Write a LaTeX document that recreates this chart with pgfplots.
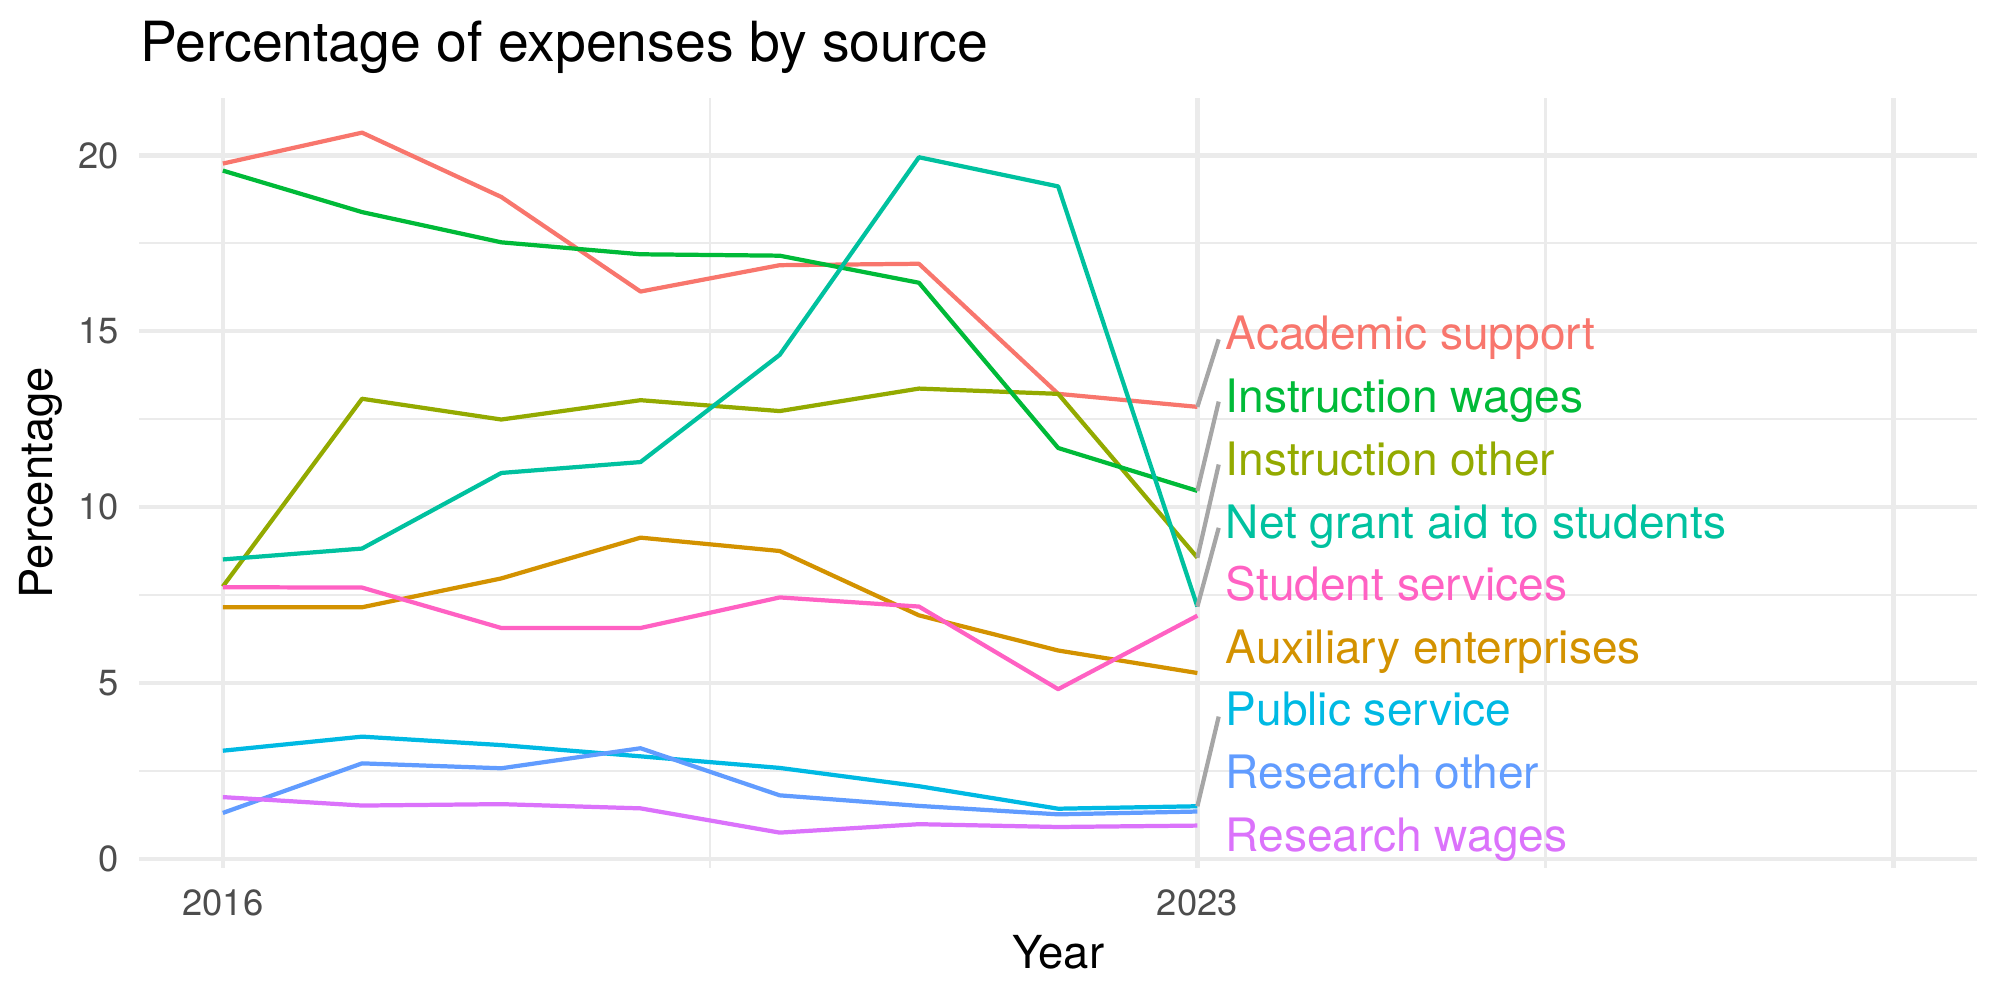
\documentclass[border=0pt]{standalone}
\usepackage{pgfplots}
\pgfplotsset{compat=1.18}
\usepackage{fontspec}
\setmainfont{TeX Gyre Heros}
\usetikzlibrary{calc}

\definecolor{acad}{HTML}{F8766D}
\definecolor{aux}{HTML}{D39200}
\definecolor{instoth}{HTML}{93AA00}
\definecolor{instwag}{HTML}{00BA38}
\definecolor{grant}{HTML}{00C19F}
\definecolor{public}{HTML}{00B9E3}
\definecolor{resoth}{HTML}{619CFF}
\definecolor{reswag}{HTML}{DB72FB}
\definecolor{student}{HTML}{FF61C3}
\definecolor{gridc}{HTML}{EBEBEB}
\definecolor{tickc}{HTML}{4D4D4D}
\definecolor{segc}{HTML}{A6A6A6}

\begin{document}
\begin{tikzpicture}
\begin{axis}[
  scale only axis,
  width=464.84pt, height=194.77pt,
  xmin=2015.4, xmax=2028.6,
  ymin=-0.256, ymax=21.646,
  axis line style={draw=none},
  tick style={draw=none},
  xtick={2016,2023,2028},
  xticklabels={2016,2023,{}},
  minor xtick={2019.5,2025.5},
  ytick={0,5,10,15,20},
  minor ytick={2.5,7.5,12.5,17.5},
  grid=both,
  major grid style={color=gridc, line width=1.07pt},
  minor grid style={color=gridc, line width=0.53pt},
  /pgf/number format/assume math mode=true,
  ticklabel style={font=\fontsize{9.2}{11}\selectfont, text=tickc, inner sep=0pt},
  xticklabel style={anchor=base, yshift=-12.2pt},
  yticklabel style={anchor=east, xshift=-5pt},
  clip=false,
  every axis plot/.append style={line width=1.07pt, line join=round},
]
\coordinate (ll) at (rel axis cs:0,0);
\coordinate (ur) at (rel axis cs:1,1);

% expense shares by year, 2016--2023
\addplot[acad] coordinates {
  (2016,19.77) (2017,20.65) (2018,18.82) (2019,16.13)
  (2020,16.88) (2021,16.92) (2022,13.22) (2023,12.85)};
\addplot[aux] coordinates {
  (2016,7.15) (2017,7.15) (2018,7.97) (2019,9.13)
  (2020,8.75) (2021,6.92) (2022,5.92) (2023,5.28)};
\addplot[instoth] coordinates {
  (2016,7.74) (2017,13.08) (2018,12.49) (2019,13.04)
  (2020,12.73) (2021,13.37) (2022,13.22) (2023,8.56)};
\addplot[instwag] coordinates {
  (2016,19.57) (2017,18.39) (2018,17.53) (2019,17.19)
  (2020,17.15) (2021,16.38) (2022,11.68) (2023,10.46)};
\addplot[grant] coordinates {
  (2016,8.51) (2017,8.82) (2018,10.97) (2019,11.28)
  (2020,14.33) (2021,19.95) (2022,19.12) (2023,7.17)};
\addplot[public] coordinates {
  (2016,3.07) (2017,3.47) (2018,3.23) (2019,2.91)
  (2020,2.58) (2021,2.06) (2022,1.42) (2023,1.49)};
\addplot[resoth] coordinates {
  (2016,1.30) (2017,2.71) (2018,2.57) (2019,3.14)
  (2020,1.80) (2021,1.50) (2022,1.26) (2023,1.34)};
\addplot[reswag] coordinates {
  (2016,1.75) (2017,1.51) (2018,1.55) (2019,1.43)
  (2020,0.74) (2021,0.98) (2022,0.90) (2023,0.94)};
\addplot[student] coordinates {
  (2016,7.72) (2017,7.71) (2018,6.56) (2019,6.56)
  (2020,7.43) (2021,7.17) (2022,4.82) (2023,6.91)};

% leader segments from the last point to the repelled labels
\addplot[segc] coordinates {(2023,12.85) (2023.153,14.77)};
\addplot[segc] coordinates {(2023,10.46) (2023.153,13.00)};
\addplot[segc] coordinates {(2023,8.56) (2023.153,11.21)};
\addplot[segc] coordinates {(2023,7.17) (2023.153,9.41)};
\addplot[segc] coordinates {(2023,1.49) (2023.153,4.04)};

% series labels
\begin{scope}[every node/.style={anchor=base west, inner sep=0pt,
    font=\fontsize{11.65}{13}\selectfont}]
\node[text=acad]    at (axis cs:2023.198,14.48) {Academic support};
\node[text=instwag] at (axis cs:2023.198,12.68) {Instruction wages};
\node[text=instoth] at (axis cs:2023.198,10.89) {Instruction other};
\node[text=grant]   at (axis cs:2023.198,9.11)  {Net grant aid to students};
\node[text=student] at (axis cs:2023.198,7.33)  {Student services};
\node[text=aux]     at (axis cs:2023.198,5.55)  {Auxiliary enterprises};
\node[text=public]  at (axis cs:2023.198,3.78)  {Public service};
\node[text=resoth]  at (axis cs:2023.198,1.99)  {Research other};
\node[text=reswag]  at (axis cs:2023.198,0.19)  {Research wages};
\end{scope}
\end{axis}

% title and axis titles
\node[anchor=base west, inner sep=0pt, font=\fontsize{14}{16}\selectfont]
  at ([yshift=9.08pt]ll |- ur) {Percentage of expenses by source};
\node[anchor=base, inner sep=0pt, font=\fontsize{11.5}{13}\selectfont]
  at ([yshift=-25.5pt]$(ll)!0.5!(ll -| ur)$) {Year};
\node[rotate=90, anchor=base, inner sep=0pt, font=\fontsize{11.5}{13}\selectfont]
  at ([xshift=-22pt]$(ll)!0.5!(ll |- ur)$) {Percentage};

\pgfresetboundingbox
\path ([shift={(-35.24pt,-33.44pt)}]ll) rectangle ([shift={(5.81pt,24.69pt)}]ur);
\end{tikzpicture}
\end{document}
